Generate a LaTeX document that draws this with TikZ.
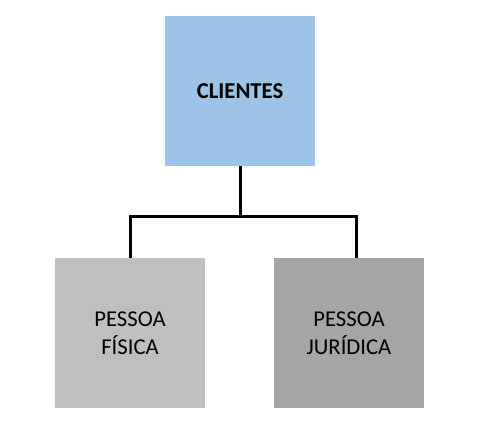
\documentclass[tikz,border=0pt]{standalone}
\usepackage{fontspec}
\setmainfont{Carlito}
\definecolor{boxblue}{HTML}{9DC3E6}
\definecolor{boxlight}{HTML}{BFBFBF}
\definecolor{boxdark}{HTML}{A5A5A5}
\begin{document}
\begin{tikzpicture}[
x=0.75pt,y=-0.75pt,
box/.style={minimum width=112.5pt,minimum height=112.5pt,inner sep=0pt,align=center,
  font=\fontsize{17}{21}\selectfont},
link/.style={draw,line width=2.25pt},
]
\useasboundingbox (0,0) rectangle (484,443);
\node[box,fill=boxblue,font=\fontsize{17}{21}\selectfont\bfseries] (clientes) at (240,91) {CLIENTES};
\node[box,fill=boxlight] (fisica) at (130,333) {PESSOA\\FÍSICA};
\node[box,fill=boxdark] (juridica) at (349,333) {PESSOA\\JURÍDICA};
\coordinate (split) at (240,216);
\path[link]
    (clientes.south) -- (split)
    (fisica.north) |- (split) -| ([xshift=5.25pt]juridica.north);
\end{tikzpicture}
\end{document}
